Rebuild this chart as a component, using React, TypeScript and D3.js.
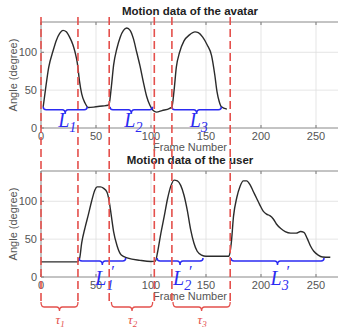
import * as d3 from 'd3';

// avatar motion (top panel)
const avatarFrames = [2, 4, 7, 11, 14, 17, 20, 23, 26, 29, 31, 33, 35, 37, 40, 43, 50, 56, 61, 62, 64, 66, 69, 72, 75, 78, 81, 84, 87, 90, 93, 96, 99, 102, 105, 110, 117, 119, 121, 123, 126, 130, 135, 140, 143, 147, 151, 155, 158, 160, 162, 164, 169];
const avatarAngles = [28, 50, 80, 102, 116, 125, 129, 127, 120, 110, 100, 86, 62, 45, 33, 27, 28, 29, 30, 32, 55, 83, 105, 120, 129, 132, 129, 118, 100, 82, 61, 42, 30, 23, 21, 23, 26, 28, 50, 80, 100, 115, 123, 127, 126, 120, 110, 96, 70, 48, 35, 28, 25];

// user motion (bottom panel)
const userFrames = [0, 33, 35, 37, 40, 43, 46, 49, 51, 54, 57, 60, 62, 64, 66, 69, 73, 79, 90, 100, 104, 106, 109, 112, 115, 118, 121, 124, 127, 130, 133, 136, 139, 142, 146, 150, 170, 171, 173, 175, 178, 181, 184, 187, 190, 193, 196, 199, 202, 205, 208, 211, 214, 218, 222, 227, 232, 236, 239, 242, 245, 248, 252, 256, 263];
const userAngles = [20, 20, 24, 45, 65, 82, 100, 115, 119, 119, 117, 112, 100, 80, 60, 42, 29, 25, 22, 20.5, 21, 33, 58, 80, 103, 120, 128, 127, 121, 108, 88, 63, 45, 34, 29, 27.5, 27.5, 28, 45, 80, 105, 120, 127, 127, 122, 113, 104, 95, 87, 83, 81, 77, 70, 64, 60, 58, 58, 60, 59, 51, 41, 34, 29, 26.5, 26];

// segment markers
const cutFrames = [0, 33.6, 62, 103, 119, 172];
const avatarSegs = [[2, 42], [62.7, 101.5], [119, 164]];
const userSegs = [[34.5, 77], [105.5, 147.3], [172.7, 257.3]];
const delaySegs = [[0, 33.6], [64, 101.5], [120, 172]];
const segNames = ['1', '2', '3'];

const xTicks = [0, 50, 100, 150, 200, 250];
const yTicks = [0, 50, 100];

const W = 338;
const H = 328;
const font = 'Liberation Sans, Arial, sans-serif';
const serif = 'Liberation Serif, Times New Roman, serif';
const red = '#e4504c';
const blue = '#2b2bf2';

const x = d3.scaleLinear().domain([0, 270]).range([41, 338]);

function brace(x1: number, x2: number, y: number, h1: number, h2: number) {
  const m = (x1 + x2) / 2;
  const r = 3;
  return `M${x1},${y - h1} Q${x1},${y} ${x1 + r},${y} L${m - r},${y} Q${m},${y} ${m},${y + h2} ` +
    `Q${m},${y} ${m + r},${y} L${x2 - r},${y} Q${x2},${y} ${x2},${y - h1}`;
}

function Panel({ top, bottom, title, frames, angles, segs, braceV, prime }: any) {
  const y = d3.scaleLinear().domain([0, 140]).range([bottom, top]);
  const line = d3.line<number>()
    .x((d, i) => x(frames[i]))
    .y(d => y(d))
    .curve(d3.curveMonotoneX);
  const by = y(braceV);
  return (
    <g>
      <rect x={41} y={top} width={W - 41 + 2} height={bottom - top} fill="#fff" />
      {xTicks.slice(1).map(t => (
        <line key={'gx' + t} x1={x(t)} x2={x(t)} y1={top} y2={bottom} stroke="#dedede" strokeWidth={0.8} />
      ))}
      {yTicks.slice(1).map(t => (
        <line key={'gy' + t} x1={41} x2={W} y1={y(t)} y2={y(t)} stroke="#dedede" strokeWidth={0.8} />
      ))}
      {xTicks.map(t => (
        <g key={'tx' + t}>
          <line x1={x(t)} x2={x(t)} y1={top} y2={top + 3} stroke="#777" />
          <line x1={x(t)} x2={x(t)} y1={bottom} y2={bottom - 3} stroke="#777" />
          <text x={x(t)} y={bottom + 12} fontSize={11} fill="#555" textAnchor="middle" fontFamily={font}>{t}</text>
        </g>
      ))}
      {yTicks.map(t => (
        <g key={'ty' + t}>
          <line x1={41} x2={44} y1={y(t)} y2={y(t)} stroke="#777" />
          <text x={37} y={y(t) + 4} fontSize={11} fill="#555" textAnchor="end" fontFamily={font}>{t}</text>
        </g>
      ))}
      <line x1={41} x2={W} y1={top} y2={top} stroke="#888" strokeWidth={1} />
      <line x1={41} x2={W} y1={bottom} y2={bottom} stroke="#888" strokeWidth={1} />
      <line x1={41} x2={41} y1={top} y2={bottom} stroke="#888" strokeWidth={1} />
      <path d={line(angles) || ''} fill="none" stroke="#2b2b2b" strokeWidth={1.4} />
      <text x={190} y={top - 7} fontSize={11.5} fontWeight="bold" fill="#222" textAnchor="middle" fontFamily={font}>{title}</text>
      <text x={190} y={bottom + 23} fontSize={11} fill="#555" textAnchor="middle" fontFamily={font}>Frame Number</text>
      <text transform={`translate(17,${(top + bottom) / 2}) rotate(-90)`} fontSize={11} fill="#555" textAnchor="middle" fontFamily={font}>Angle (degree)</text>
      {segs.map((s: number[], i: number) => {
        const m = (x(s[0]) + x(s[1])) / 2;
        const lx = m - 7;
        const ly = prime ? by + 24 : by + 17;
        return (
          <g key={'seg' + i}>
            <path d={brace(x(s[0]), x(s[1]), by, 3, 4)} fill="none" stroke={blue} strokeWidth={1.5} />
            <text x={lx} y={ly} fontSize={20} fill={blue} fontStyle="italic" fontFamily={serif}>
              L<tspan fontSize={14} dy={5}>{segNames[i]}</tspan>
            </text>
            {prime && (
              <text x={lx + 16} y={ly - 8} fontSize={16} fill={blue} fontFamily={serif}>′</text>
            )}
          </g>
        );
      })}
    </g>
  );
}

export default function App() {
  return (
    <svg width={W} height={H} style={{ position: 'absolute', left: 0, top: 0, background: '#fff' }}>
      <Panel top={22} bottom={128} title="Motion data of the avatar" frames={avatarFrames} angles={avatarAngles} segs={avatarSegs} braceV={24} prime={false} />
      <Panel top={171} bottom={277} title="Motion data of the user" frames={userFrames} angles={userAngles} segs={userSegs} braceV={21} prime={true} />
      {cutFrames.map((f, i) => (
        <line key={'cut' + i} x1={x(f)} x2={x(f)} y1={17} y2={303} stroke={red} strokeWidth={1.6} strokeDasharray="8,4" />
      ))}
      {delaySegs.map((s, i) => {
        const m = (x(s[0]) + x(s[1])) / 2;
        return (
          <g key={'tau' + i}>
            <path d={brace(x(s[0]), x(s[1]), 307, 5, 4)} fill="none" stroke={red} strokeWidth={1.3} />
            <text x={m - 4} y={324} fontSize={13} fill={red} fontStyle="italic" fontFamily={serif}>
              τ<tspan fontSize={9} dy={3}>{segNames[i]}</tspan>
            </text>
          </g>
        );
      })}
    </svg>
  );
}
